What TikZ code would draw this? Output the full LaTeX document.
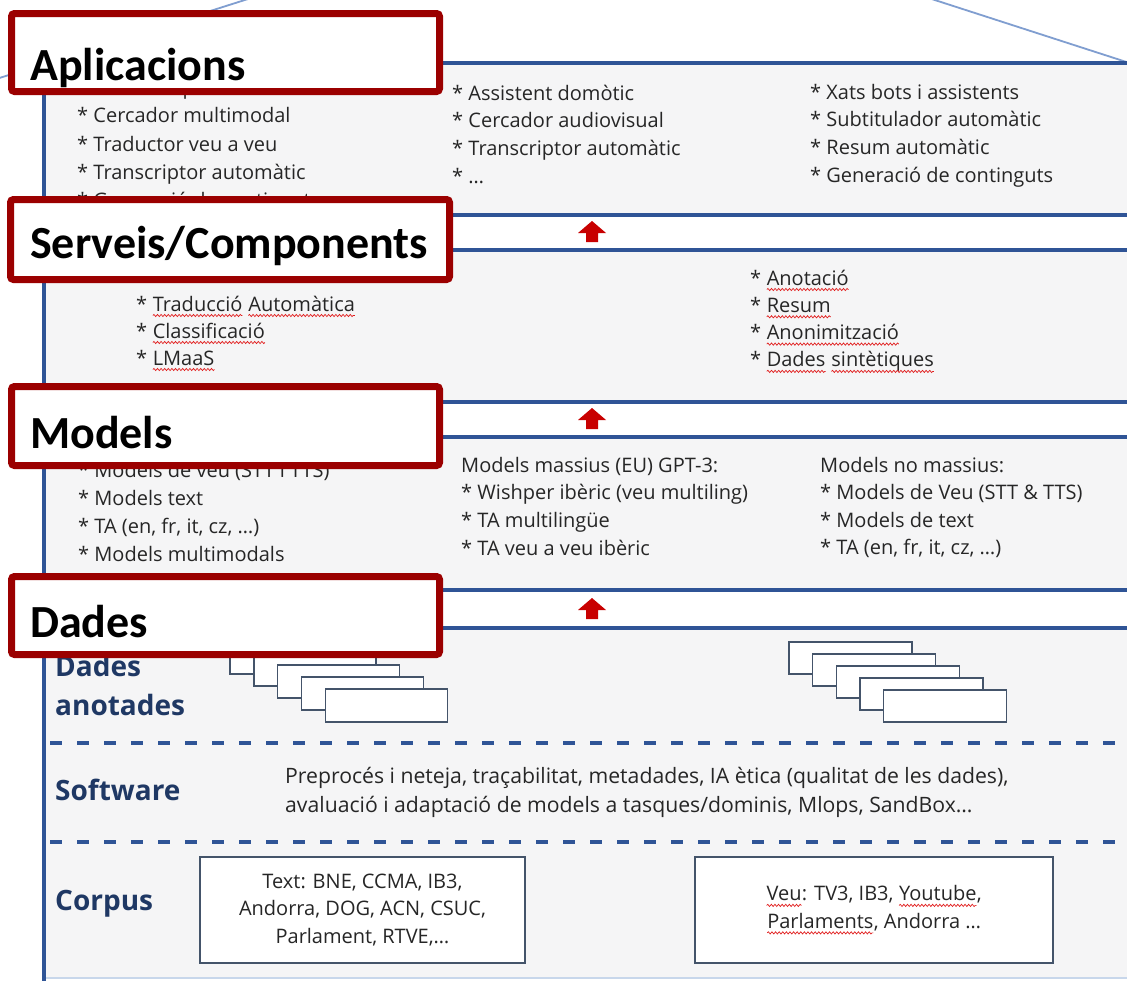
\documentclass[tikz,border=0pt]{standalone}
\usepackage{fontspec}
\setmainfont{Open Sans}
\newfontfamily\labfont{Carlito}
\usetikzlibrary{decorations.pathmorphing}

\definecolor{houseblue}{RGB}{47,84,150}
\definecolor{roofblue}{RGB}{128,158,208}
\definecolor{bandgrey}{RGB}{245,245,246}
\definecolor{labred}{RGB}{155,0,0}
\definecolor{arrred}{RGB}{200,0,0}
\definecolor{navy}{RGB}{31,56,100}
\definecolor{bodytext}{RGB}{38,38,38}
\definecolor{slate}{RGB}{68,84,106}
\definecolor{edgelight}{RGB}{200,215,235}
\definecolor{spellred}{RGB}{225,30,30}

\tikzset{
  item/.style={anchor=base west, inner sep=0pt, text=bodytext,
    font=\fontsize{20}{24}\selectfont},
  labtext/.style={anchor=base west, inner sep=0pt, text=black,
    font=\labfont\bfseries\fontsize{46}{50}\selectfont},
  labbox/.style={draw=labred, line width=7pt, fill=white, rounded corners=3pt},
  sidelab/.style={anchor=base west, inner sep=0pt, text=navy,
    font=\bfseries\fontsize{28}{32}\selectfont},
  hline/.style={draw=houseblue, line width=4.5pt},
  wall/.style={draw=houseblue, line width=3.5pt},
  dashline/.style={draw=houseblue, line width=3.5pt, dash pattern=on 12pt off 15pt},
  roof/.style={draw=roofblue, line width=1.8pt},
  stackbox/.style={draw=slate, line width=1.4pt, fill=white},
  corpusbox/.style={draw=slate, line width=1.4pt, fill=white, align=center,
    minimum width=325pt, minimum height=106pt, inner sep=0pt, text=bodytext,
    font=\fontsize{20}{27.5}\selectfont},
  squig/.style={draw=spellred, line width=0.7pt, decorate,
    decoration={snake, amplitude=1.1pt, segment length=3.6pt}},
  sqword/.style={inner sep=0pt, outer sep=0pt, anchor=base, draw=none, fill=none,
    minimum width=0pt, minimum height=0pt, line width=0pt},
}

% word with a red wavy underline
\newcommand\sq[1]{\tikz[baseline=(sqw.base)]{%
  \node[sqword] (sqw) {#1};%
  \draw[squig] ([yshift=-4.5pt]sqw.base west) -- ([yshift=-4.5pt]sqw.base east);}}

% a column of list lines: name prefix, x, first baseline, line step, items
\newcommand\listcol[5]{%
  \foreach \itm [count=\i] in {#5} {\node[item] (#1\i) at (#2,{#3+#4*(\i-1)}) {\itm};}}

% red upward block arrow centred at (x,y)
\newcommand\redarrow[2]{%
  \fill[arrred, shift={(#1,#2)}] (0,-11) -- (14,1) -- (6,1) -- (6,10) -- (-6,10) -- (-6,1) -- (-14,1) -- cycle;}

\begin{document}
\begin{tikzpicture}[x=1pt, y=-1pt]
\useasboundingbox (0,0) rectangle (1127,980);
\clip (0,0) rectangle (1127,980);
\fill[white] (0,0) rectangle (1127,980);

% roof
\draw[roof] (270,-8) -- (-10,81);
\draw[roof] (910,-8) -- (1145,68);

% floors
\fill[bandgrey] (44,63) rectangle (1140,215);
\fill[bandgrey] (44,250) rectangle (1140,402);
\fill[bandgrey] (44,437) rectangle (1140,590);
\fill[bandgrey] (44,628) rectangle (1140,978);
\draw[edgelight, line width=1.5pt] (44,978) -- (1140,978);
\foreach \yy in {63,215,250,402,437,590,628} {\draw[hline] (42,\yy) -- (1140,\yy);}
\draw[wall] (44,61) -- (44,982);
\draw[dashline] (50,743) -- (1140,743);
\draw[dashline] (50,842) -- (1140,842);

% arrows between floors
\redarrow{592}{232}
\redarrow{592}{419}
\redarrow{592}{609}

% Aplicacions
\listcol{apA}{77}{94.5}{28.3}{* Assistent personal, * Cercador multimodal, * Traductor veu a veu, * Transcriptor automàtic, * Generació de continguts}
\listcol{apB}{452}{100}{27.7}{* Assistent domòtic, * Cercador audiovisual, * Transcriptor automàtic, * …}
\listcol{apC}{810}{99}{27.9}{* Xats bots i assistents, * Subtitulador automàtic, * Resum automàtic, * Generació de continguts}

% Serveis / Components
\listcol{svA}{136}{311}{27}{* \sq{Traducció} \sq{Automàtica}, * \sq{Classificació}, * \sq{LMaaS}}
\listcol{svB}{750}{285}{27.3}{* \sq{Anotació}, * \sq{Resum}, * \sq{Anonimització}, * \sq{Dades} \sq{sintètiques}}

% Models
\listcol{mdA}{78}{477}{28}{* Models de veu (STT i TTS), * Models text, {* TA (en, fr, it, cz, …)}, * Models multimodals}
\listcol{mdB}{461}{472}{27.7}{Models massius (EU) GPT-3:, * Wishper ibèric (veu multiling), * TA multilingüe, * TA veu a veu ibèric}
\listcol{mdC}{820}{472}{27.6}{Models no massius:, * Models de Veu (STT \& TTS), * Models de text, {* TA (en, fr, it, cz, …)}}

% Dades
\node[sidelab] (danA) at (55,676) {Dades};
\node[sidelab] (danB) at (55,715) {anotades};
\node[sidelab] (soft) at (55,800) {Software};
\node[sidelab] (corp) at (55,910) {Corpus};

\foreach \i in {0,...,4} {\draw[stackbox] ({230+23.8*\i},{641+12*\i}) rectangle +(122,33);}
\foreach \i in {0,...,4} {\draw[stackbox] ({789+23.6*\i},{642+12*\i}) rectangle +(123,32);}

\node[item, font=\fontsize{21.2}{24}\selectfont] (swA) at (285,783) {Preprocés i neteja, traçabilitat, metadades, IA ètica (qualitat de les dades),};
\node[item, font=\fontsize{21.2}{24}\selectfont] (swB) at (285,812) {avaluació i adaptació de models a tasques/dominis, Mlops, SandBox…};

\node[corpusbox] (cText) at (362.5,910) {Text: BNE, CCMA, IB3,\\Andorra, DOG, ACN, CSUC,\\Parlament, RTVE,…};
\node[corpusbox, minimum width=358pt] (cVeu) at (874,910) {\sq{Veu}: TV3, IB3, \sq{Youtube},\\\sq{Parlaments}, Andorra …};

% level labels
\draw[labbox] (11.5,13.5) rectangle (439.5,91.5);
\node[labtext] (lApl) at (30,80) {Aplicacions};
\draw[labbox] (10.5,199.5) rectangle (449.5,279.5);
\node[labtext] (lSrv) at (30,258) {Serveis/Components};
\draw[labbox] (11.5,386.5) rectangle (439.5,465.5);
\node[labtext] (lMod) at (30,448) {Models};
\draw[labbox] (11.5,576.5) rectangle (439.5,654.5);
\node[labtext] (lDad) at (30,637) {Dades};
\end{tikzpicture}
\end{document}
